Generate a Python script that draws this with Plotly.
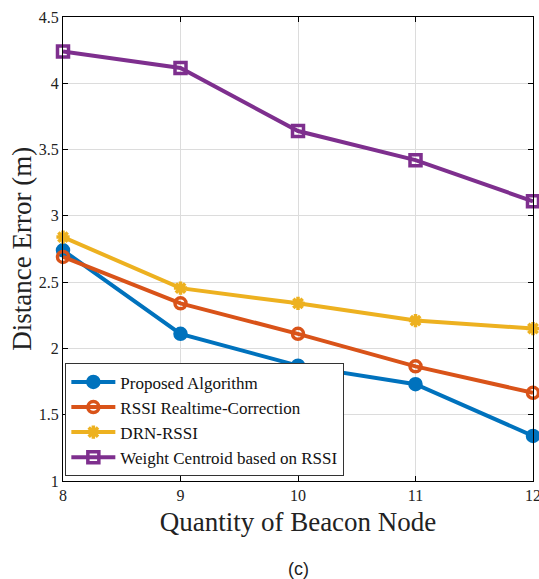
import plotly.graph_objects as go

beacons = [8, 9, 10, 11, 12]
proposed = [2.74, 2.11, 1.87, 1.73, 1.34]
rssi_rt = [2.69, 2.34, 2.11, 1.865, 1.665]
drn_rssi = [2.84, 2.455, 2.34, 2.21, 2.15]
weight_centroid = [4.24, 4.115, 3.64, 3.42, 3.11]

names = ["Proposed Algorithm", "RSSI Realtime-Correction", "DRN-RSSI", "Weight Centroid based on RSSI"]
colors = ["#0072BD", "#D95319", "#EDB120", "#7E2F8E"]
symbols = ["circle", "circle-open", "asterisk-open", "square-open"]
series = [proposed, rssi_rt, drn_rssi, weight_centroid]

SERIF = "Liberation Serif, Times New Roman, serif"

fig = go.Figure()
for name, col, sym, ys in zip(names, colors, symbols, series):
    fig.add_trace(go.Scatter(
        x=beacons, y=ys, name=name, mode="lines+markers",
        line=dict(color=col, width=4),
        marker=dict(symbol=sym, size=11, color=col, line=dict(color=col, width=3.5)),
        cliponaxis=False,
    ))

axis_common = dict(
    showline=True, linecolor="black", linewidth=1, mirror="ticks",
    ticks="inside", ticklen=5, tickcolor="black",
    showgrid=True, gridcolor="#dcdcdc", gridwidth=1,
    zeroline=False, automargin=False,
    tickfont=dict(family=SERIF, size=16, color="#222"),
    ticklabeloverflow="allow",
)

fig.update_xaxes(range=[8, 12], tickvals=beacons, ticktext=[str(b) for b in beacons],
                 title=dict(text="Quantity of Beacon Node", font=dict(family=SERIF, size=27, color="#222"), standoff=8),
                 **axis_common)
fig.update_yaxes(range=[1, 4.5], tickvals=[1, 1.5, 2, 2.5, 3, 3.5, 4, 4.5],
                 ticktext=["1", "1.5", "2", "2.5", "3", "3.5", "4", "4.5"],
                 **axis_common)

fig.update_layout(
    width=539, height=579,
    margin=dict(l=63, r=6, t=17, b=98),
    plot_bgcolor="white", paper_bgcolor="white",
    showlegend=True,
    legend=dict(x=0.005, y=0.01, xanchor="left", yanchor="bottom",
                bgcolor="white", bordercolor="#333", borderwidth=1,
                font=dict(family=SERIF, size=17, color="#111"),
                tracegroupgap=0, itemwidth=44),
    annotations=[
        dict(text="Distance Error (m)", x=-0.088, y=0.5, xref="paper", yref="paper",
             xanchor="center", yanchor="middle", textangle=-90, showarrow=False,
             font=dict(family=SERIF, size=27, color="#222")),
        dict(text="(c)", x=0.5, y=-0.19, xref="paper", yref="paper",
             xanchor="center", yanchor="middle", showarrow=False,
             font=dict(family="Liberation Sans, Arial, sans-serif", size=18, color="#222")),
    ],
)

fig.write_html("out.html")
